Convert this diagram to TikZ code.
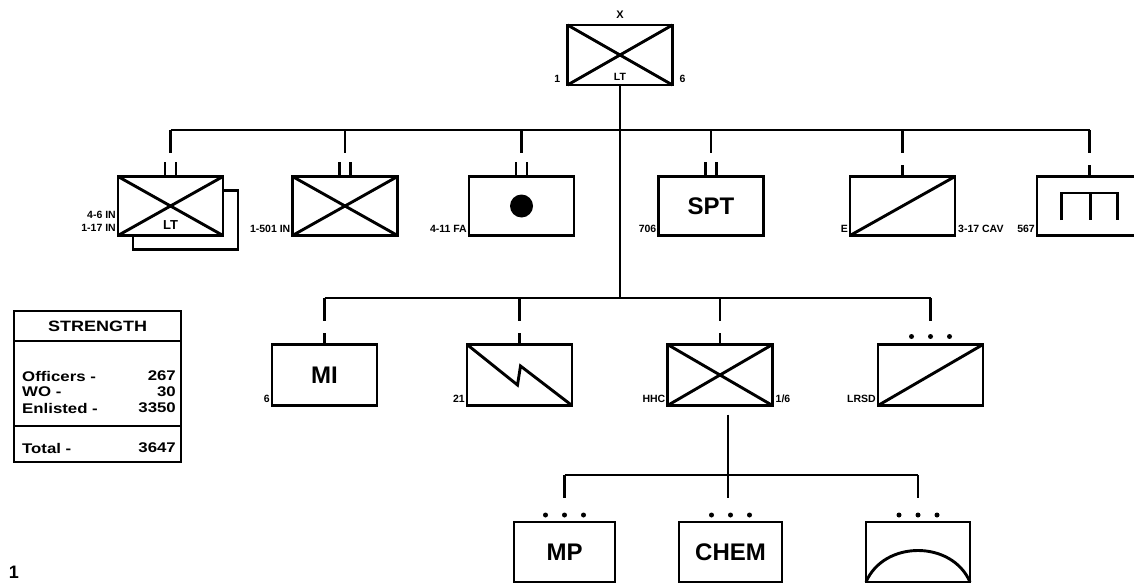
\documentclass[tikz,border=0pt]{standalone}
\usepackage{fontspec}
\setmainfont{Liberation Sans}
\newfontfamily\widefont{Liberation Sans}[FakeStretch=1.2]
\usepackage{tikz}
\usetikzlibrary{calc,positioning}

\begin{document}
\begin{tikzpicture}[x=1pt,y=-1pt,
  unit/.style={draw,line width=2.9pt,minimum width=105pt,minimum height=59pt,inner sep=0pt,outer sep=0pt},
  wire/.style={line width=2.9pt},
  tick/.style={line width=2.4pt},
  tag/.style={font=\bfseries\fontsize{10.5}{11}\selectfont,inner sep=1pt},
  big/.style={font=\bfseries\fontsize{24}{26}\selectfont,inner sep=0pt},
  row/.style={font=\widefont\bfseries\fontsize{14}{16}\selectfont,inner sep=0pt},
  dot/.style={fill,circle,inner sep=0pt,minimum size=5pt}]
\useasboundingbox (0,0) rectangle (1134,583);

\node[unit,minimum height=60pt] (bde) at (620,55) {};
\draw[wire] (bde.north west) -- (bde.south east) (bde.south west) -- (bde.north east);
\node[tag,font=\bfseries\fontsize{11}{11}\selectfont] (bdeX) at ([yshift=10pt]bde.north) {X};
\node[tag,anchor=south east] (bdeL) at ([xshift=-6pt,yshift=1pt]bde.south west) {1};
\node[tag,anchor=south west] (bdeR) at ([xshift=6pt,yshift=1pt]bde.south east) {6};
\node[tag] (bdeLT) at ([yshift=8pt]bde.south) {LT};

\coordinate (bar1) at (620,130);
\coordinate (bar2) at (620,298);
\coordinate (bar3) at (728,475);

\node[unit,line width=2.2pt] (inf1s) at (185.5,220) {};
\node[unit,fill=white] (inf1) at (170.5,206) {};
\node[unit] (inf2) at (345,206) {};
\node[unit] (fa) at (521.5,206) {};
\node[unit] (spt) at (711,206) {};
\node[unit] (cav) at (902.5,206) {};
\node[unit] (eng) at (1089.5,206) {};

\draw[wire] (bde.south) -- (bar2);
\draw[wire] (inf1.north |- bar1) -- (eng.north |- bar1);
\foreach \n in {inf1,inf2,fa,spt,cav,eng}
  \draw[wire] (\n.north |- bar1) -- ++(0,23);
\foreach \n in {inf1,inf2,fa,spt}
  \draw[tick] ([xshift=-5.5pt]\n.north) -- ++(0,-15) ([xshift=5.5pt]\n.north) -- ++(0,-15);
\foreach \n in {cav,eng}
  \draw[tick] (\n.north) -- ++(0,-12);

\draw[wire] (inf1.north west) -- (inf1.south east) (inf1.south west) -- (inf1.north east);
\node[tag,font=\bfseries\fontsize{13}{13}\selectfont,fill=white] (inf1LT) at ([yshift=10pt]inf1.south) {LT};
\node[tag,anchor=south east] (inf1b) at ([xshift=-1pt,yshift=3pt]inf1.south west) {1-17 IN};
\node[tag,anchor=south east] (inf1a) at ([yshift=3pt]inf1b.north east) {4-6 IN};
\draw[wire] (inf2.north west) -- (inf2.south east) (inf2.south west) -- (inf2.north east);
\node[tag,anchor=south east] (inf2a) at ([xshift=-1pt,yshift=2pt]inf2.south west) {1-501 IN};
\node[fill,circle,inner sep=0pt,minimum size=23pt] (fadot) at (fa.center) {};
\node[tag,anchor=south east] (fa1) at ([xshift=-1pt,yshift=2pt]fa.south west) {4-11 FA};
\node[big] (sptT) at (spt.center) {SPT};
\node[tag,anchor=south east] (spt1) at ([xshift=-1pt,yshift=2pt]spt.south west) {706};
\draw[wire] (cav.south west) -- (cav.north east);
\node[tag,anchor=south east] (cav1) at ([xshift=-1pt,yshift=2pt]cav.south west) {E};
\node[tag,anchor=south west] (cav2) at ([xshift=2pt,yshift=2pt]cav.south east) {3-17 CAV};
\node[tag,anchor=south east] (eng1) at ([xshift=-1pt,yshift=2pt]eng.south west) {567};
\draw[wire] ($(eng.center)+(-28,14)$) -- ++(0,-27) -- ++(56,0) -- ++(0,27)
  ($(eng.center)+(1,-13)$) -- ++(0,27);

\node[unit,minimum height=61pt] (mi) at (324.5,375) {};
\node[unit,minimum height=61pt] (sig) at (519.5,375) {};
\node[unit,minimum height=61pt] (hhc) at (720,375) {};
\node[unit,minimum height=61pt] (lrsd) at (930.5,375) {};

\draw[wire] (mi.north |- bar2) -- (lrsd.north |- bar2);
\foreach \n in {mi,sig,hhc,lrsd}
  \draw[wire] (\n.north |- bar2) -- ++(0,23);
\foreach \n in {mi,sig,hhc}
  \draw[tick] (\n.north) -- ++(0,-12);
\foreach \d/\k in {-19/1,0/2,19/3}
  \node[dot] (lrsdp\k) at ([xshift=\d pt,yshift=8pt]lrsd.north) {};

\node[big] (miT) at (mi.center) {MI};
\node[tag,anchor=south east] (mi1) at ([xshift=-1pt,yshift=2pt]mi.south west) {6};
\draw[wire] (sig.north west) -- ($(sig.center)+(-2,10)$) -- ($(sig.center)+(1,-9)$) -- (sig.south east);
\node[tag,anchor=south east] (sig1) at ([xshift=-1pt,yshift=2pt]sig.south west) {21};
\draw[wire] (hhc.north west) -- (hhc.south east) (hhc.south west) -- (hhc.north east);
\node[tag,anchor=south east] (hhc1) at ([xshift=-1pt,yshift=2pt]hhc.south west) {HHC};
\node[tag,anchor=south west] (hhc2) at ([xshift=2pt,yshift=2pt]hhc.south east) {1/6};
\draw[wire] (lrsd.south west) -- (lrsd.north east);
\node[tag,anchor=south east] (lrsd1) at ([xshift=-1pt,yshift=2pt]lrsd.south west) {LRSD};

\node[unit,minimum width=101pt,minimum height=60pt] (mp) at (564.5,552) {};
\node[unit,minimum width=103pt,minimum height=60pt] (chem) at (730.5,552) {};
\node[unit,minimum width=104pt,minimum height=60pt] (smk) at (918,552) {};

\draw[wire] ($(bar3 |- hhc.south)+(0,9)$) -- (bar3);
\draw[wire] (mp.north |- bar3) -- (smk.north |- bar3);
\foreach \n in {mp,smk}
  \draw[wire] (\n.north |- bar3) -- ++(0,23);
\draw[wire] (bar3) -- ++(0,23);
\foreach \n in {mp,chem,smk}
  \foreach \d/\k in {-19/1,0/2,19/3}
    \node[dot] (\n p\k) at ([xshift=\d pt,yshift=7pt]\n.north) {};

\node[big] (mpT) at (mp.center) {MP};
\node[big] (chemT) at (chem.center) {CHEM};
\draw[wire] (smk.south west) .. controls +(18,-42) and +(-18,-42) .. (smk.south east);

\node[draw,line width=2.2pt,minimum width=167pt,minimum height=151pt,inner sep=0pt,outer sep=0pt] (str) at (97.5,386.5) {};
\draw[line width=1.8pt] (str.west |- 0,341) -- (str.east |- 0,341);
\draw[line width=2.2pt] (str.west |- 0,426) -- (str.east |- 0,426);
\node[font=\widefont\bfseries\fontsize{15}{15}\selectfont] (strT) at (97.5,326) {STRENGTH};
\node[row,anchor=west] (offK) at (22,376) {Officers -};
\node[row,anchor=east] (offV) at (176,376) {267};
\node[row,anchor=west] (woK) at (22,392) {WO -};
\node[row,anchor=east] (woV) at (176,392) {30};
\node[row,anchor=west] (enlK) at (22,408) {Enlisted -};
\node[row,anchor=east] (enlV) at (176,408) {3350};
\node[row,anchor=west] (totK) at (22,448) {Total -};
\node[row,anchor=east] (totV) at (176,448) {3647};

\node[font=\bfseries\fontsize{18}{18}\selectfont] (pg) at (14,572) {1};
\end{tikzpicture}
\end{document}
